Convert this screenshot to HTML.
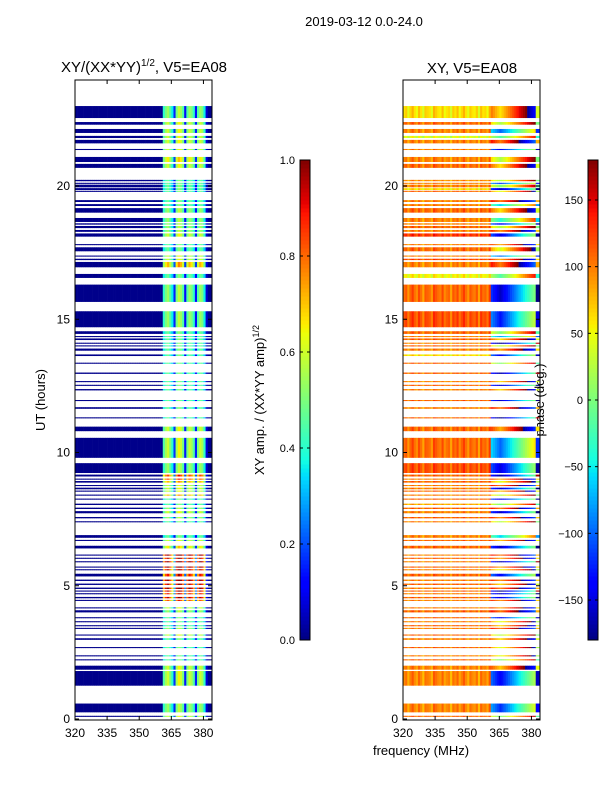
<!DOCTYPE html>
<html><head><meta charset="utf-8"><style>
body{margin:0;background:#fff;}
svg text{font-family:"Liberation Sans",sans-serif;}
</style></head><body>
<svg id="fig" width="600" height="800" viewBox="0 0 600 800" xmlns="http://www.w3.org/2000/svg">
<rect x="0" y="0" width="600" height="800" fill="#fff"/>
<text x="364" y="26" font-size="13" text-anchor="middle">2019-03-12 0.0-24.0</text>
<text x="144" y="72" font-size="15" text-anchor="middle">XY/(XX*YY)<tspan font-size="10" dy="-6">1/2</tspan><tspan dy="6">, V5=EA08</tspan></text>
<text x="472" y="73" font-size="15" text-anchor="middle">XY, V5=EA08</text>
<text x="45" y="400" font-size="13" text-anchor="middle" transform="rotate(-90 45 400)">UT (hours)</text>
<text x="264" y="400" font-size="13" text-anchor="middle" transform="rotate(-90 264 400)">XY amp. / (XX*YY amp)<tspan font-size="9" dy="-5">1/2</tspan></text>
<text x="544" y="400" font-size="13" text-anchor="middle" transform="rotate(-90 544 400)">phase (deg.)</text>
<text x="421" y="755" font-size="13" text-anchor="middle">frequency (MHz)</text>
<g id="gl"></g>
<g id="gr"></g>
<g id="ax"></g>
</svg>
<script>
const rowStart=[22.55,22.3,21.99,21.8,21.6,21.35,20.9,20.68,20.18,20.08,19.95,19.85,19.78,19.4,19.25,19.0,18.65,18.55,18.42,18.28,18.1,17.78,17.55,17.35,17.22,16.95,16.55,15.65,14.7,14.45,14.33,14.22,14.08,13.98,13.82,13.62,13.33,12.95,12.64,12.5,12.33,11.93,11.64,11.28,10.8,9.8,9.23,9.1,8.98,8.87,8.74,8.62,8.53,8.38,8.23,8.03,7.88,7.72,7.53,7.38,6.8,6.68,6.4,6.13,6.01,5.88,5.68,5.58,5.35,5.18,5.03,4.88,4.78,4.68,4.53,4.43,4.15,4.0,3.78,3.63,3.48,3.38,3.13,2.97,2.66,2.35,2.2,1.85,1.25,0.25,0.08];
const rowEnd=[23.0,22.4,22.14,21.88,21.73,21.39,21.09,20.83,20.23,20.12,20.05,19.92,19.82,19.47,19.32,19.17,18.8,18.6,18.5,18.35,18.22,17.82,17.7,17.39,17.27,17.15,16.7,16.3,15.3,14.55,14.37,14.28,14.12,14.02,13.9,13.68,13.37,13.0,12.68,12.54,12.38,11.97,11.7,11.32,10.97,10.55,9.6,9.17,9.02,8.93,8.78,8.68,8.57,8.42,8.27,8.08,7.93,7.8,7.58,7.42,6.9,6.72,6.5,6.17,6.05,5.92,5.72,5.62,5.45,5.23,5.08,4.93,4.82,4.72,4.58,4.47,4.19,4.08,3.82,3.67,3.52,3.42,3.17,3.03,2.7,2.39,2.24,2.0,1.8,0.58,0.12];
const rowAmpHi=[.45,.5,.5,.5,.5,.5,.55,.5,.4,.4,.4,.4,.4,.4,.4,.45,.45,.45,.45,.45,.5,.4,.4,.5,.5,.6,.4,.45,.45,.4,.4,.4,.4,.4,.4,.4,.4,.4,.4,.4,.4,.4,.4,.4,.5,.5,.45,.7,.7,.6,.5,.5,.5,.6,.4,.4,.45,.5,.45,.4,.4,.5,.55,.85,.8,.85,.85,.8,.75,.85,.8,.85,.8,.75,.8,.7,.5,.45,.4,.4,.4,.45,.5,.4,.4,.4,.4,.5,.5,.45,.5];
const rowPhaseLo=[60,105,95,40,95,95,95,105,90,95,95,60,105,95,95,105,95,95,105,95,125,95,105,95,115,95,50,105,115,105,95,105,95,105,95,60,105,105,95,105,95,105,95,105,105,105,115,105,95,105,95,95,105,95,105,80,105,95,105,95,95,105,105,95,105,95,105,95,105,95,105,95,105,95,105,95,95,105,105,95,105,95,105,95,105,95,105,95,95,95,105];
const rowPhaseHi=[100,60,-60,20,140,-100,60,100,60,-80,40,-120,80,140,-20,100,0,-100,60,130,-110,120,80,-60,120,140,20,-120,-90,40,-40,100,-140,60,120,-100,40,-130,100,-120,100,-120,140,-140,120,-60,-110,-130,120,80,140,-120,110,60,-110,40,140,-120,130,60,-20,110,-120,140,120,-130,120,80,-100,130,100,140,-140,-120,-110,130,120,140,-100,80,100,140,60,100,80,80,40,110,-100,-80,40];
const freqs=[];for(let f=320;f<384;f++)freqs.push(f);
const lowAmp=0.01;
const bandFreqs=[361,362,363,364,365,366,367,368,369,370,371,372,373,374,375,376,377,378,379,380,381];
const bandShape=[0.9,1.1,1.2,1.0,0.8,0.35,1.1,1.3,1.2,1.0,0.3,1.0,1.2,1.1,0.9,0.3,1.0,1.2,1.1,0.8,0.15];
const bandPhaseOff=[0,-10,-20,-30,-40,-30,-20,-10,0,10,20,30,40,50,60,70,80,90,100,110,120];
const loPhaseOff=[0,10,-15,5,20,0,-10,15,0,-20,10,5,0,-15,20,10,0,-5,15,-10,0,5,-20,10,0,15,-10,5,20,0,-15,10,0,-5,10,-20,15,0,5,-10,20,0];

const X0=75,PW=137,Y0=719,PY=26.65,RX=403;
const F0=320,F1=384;
function xs(f,off){return off+(f-F0)/(F1-F0)*PW;}
function ys(h){return Y0-h*PY;}
const JR=[[0,0],[0.35,0],[0.66,1],[0.89,1],[1,0.5]];
const JG=[[0,0],[0.125,0],[0.375,1],[0.64,1],[0.91,0],[1,0]];
const JB=[[0,0.5],[0.11,1],[0.34,1],[0.65,0],[1,0]];
function seg(s,t){for(let i=1;i<s.length;i++){if(t<=s[i][0]){const a=s[i-1],b=s[i];return a[1]+(b[1]-a[1])*(t-a[0])/(b[0]-a[0]);}}return s[s.length-1][1];}
function jet(t){t=Math.max(0,Math.min(1,t));
 return 'rgb('+Math.round(seg(JR,t)*255)+','+Math.round(seg(JG,t)*255)+','+Math.round(seg(JB,t)*255)+')';}
const NS='http://www.w3.org/2000/svg';
function rect(p,x,y,w,h,fill){const r=document.createElementNS(NS,'rect');
 r.setAttribute('x',x);r.setAttribute('y',y);r.setAttribute('width',w);r.setAttribute('height',h);r.setAttribute('fill',fill);
 
 
 p.appendChild(r);return r;}
const gl=document.getElementById('gl'),gr=document.getElementById('gr'),ax=document.getElementById('ax');
for(let i=0;i<rowStart.length;i++){
 const y=ys(rowEnd[i]),h=ys(rowStart[i])-y;
 for(let c=0;c<freqs.length;c++){
  const f=freqs[c];const bi=bandFreqs.indexOf(f);
  const a=bi>=0?rowAmpHi[i]*bandShape[bi]:lowAmp;
  let p=bi>=0?rowPhaseHi[i]+bandPhaseOff[bi]:rowPhaseLo[i]+loPhaseOff[c%loPhaseOff.length];
  if(f>=382)p=rowPhaseHi[i]-60;
  while(p>180)p-=360;while(p<-180)p+=360;
  rect(gl,xs(f,X0),y,xs(f+1,X0)-xs(f,X0)+0.3,h,jet(a));
  rect(gr,xs(f,RX),y,xs(f+1,RX)-xs(f,RX)+0.3,h,jet((p+180)/360));
 }
}
function el(p,tag,attrs,txt){const e=document.createElementNS(NS,tag);for(const k in attrs)e.setAttribute(k,attrs[k]);if(txt!==undefined)e.textContent=txt;p.appendChild(e);return e;}
const yTicks=[0,5,10,15,20];
const xTicks=[320,335,350,365,380];
[X0,RX].forEach((off,pi)=>{
 const fr=el(ax,'rect',{x:off,y:80,width:PW,height:640,fill:'none',stroke:'#000','stroke-width':1});
 
 
 yTicks.forEach(v=>{const y=ys(v);
  el(ax,'line',{x1:off,x2:off+4,y1:y,y2:y,stroke:'#000'});
  el(ax,'line',{x1:off+PW-4,x2:off+PW,y1:y,y2:y,stroke:'#000'});
  const t=el(ax,'text',{x:off-5,y:y+4,'font-size':12,'text-anchor':'end'},String(v));
  
  });
 xTicks.forEach(v=>{const x=xs(v,off);
  el(ax,'line',{x1:x,x2:x,y1:720,y2:716,stroke:'#000'});
  el(ax,'line',{x1:x,x2:x,y1:80,y2:84,stroke:'#000'});
  const t=el(ax,'text',{x:x,y:737,'font-size':12,'text-anchor':'middle'},String(v));
  
  });
});
const ampTicks=[0.0,0.2,0.4,0.6,0.8,1.0];
const phaseTicks=[-150,-100,-50,0,50,100,150];
function colorbar(x,lo,hi,ticks,fmt,name){
 const g=el(ax,'g',{});
 
 
 const N=120;for(let k=0;k<N;k++){el(g,'rect',{x:x,y:640-(k+1)*480/N,width:10,height:480/N+0.5,fill:jet((k+0.5)/N)});}
 el(g,'rect',{x:x,y:160,width:10,height:480,fill:'none',stroke:'#000'});
 ticks.forEach(v=>{const y=640-(v-lo)/(hi-lo)*480;
  el(g,'line',{x1:x,x2:x+3,y1:y,y2:y,stroke:'#000'});el(g,'line',{x1:x+7,x2:x+10,y1:y,y2:y,stroke:'#000'});
  const t=el(g,'text',{x:x-5,y:y+4,'font-size':11,'text-anchor':'end'},fmt(v));
  
  });
}
colorbar(300,0,1,ampTicks,v=>v.toFixed(1),'amp-colorbar');
colorbar(588,-180,180,phaseTicks,v=>v<0?'\u2212'+(-v):String(v),'phase-colorbar');
</script>
</body></html>
